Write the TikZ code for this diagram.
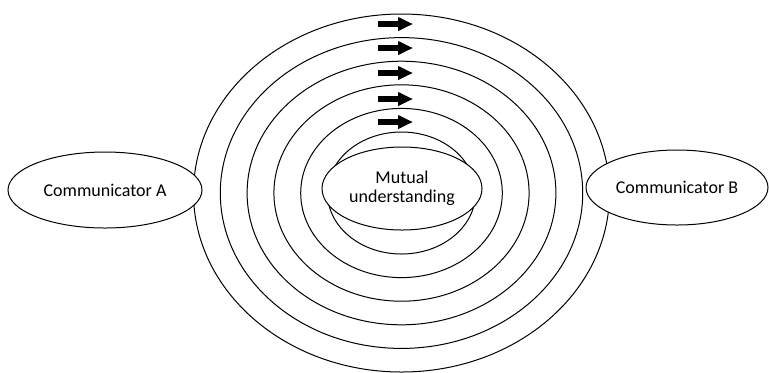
\documentclass[tikz,border=0pt]{standalone}
\usepackage{fontspec}
\setmainfont{Carlito}
\usepackage{tikz}
\usetikzlibrary{shapes.geometric,arrows.meta,positioning}
\tikzset{
  ringline/.style={draw=black,line width=0.5pt},
  partynode/.style={ellipse,draw=black,line width=0.5pt,fill=white,inner sep=0pt,
                    align=center,font=\fontsize{9}{9.6}\selectfont},
  flowarr/.style={-{Triangle[length=7.5pt,width=6.5pt]},line width=2.6pt,color=black}
}

\begin{document}
\begin{tikzpicture}[x=0.5pt,y=-0.5pt]
  \useasboundingbox (0,0) rectangle (769,372);

  % rings round the centre
  \foreach \i in {0,...,5}
    \draw[ringline] (401.5,193) ellipse ({37pt+13.4pt*\i} and {30.5pt+11.8pt*\i});

  \foreach \y [count=\k] in {24,48,73,99,122} {
    \coordinate (s\k) at (378,\y);
    \coordinate (t\k) at (413,\y);
    \draw[flowarr] (s\k) -- (t\k);
  }

  \node[partynode,minimum width=80pt,minimum height=41.5pt] (mutual) at (402,188.5)
      {Mutual\\understanding};
  \node[partynode,minimum width=97pt,minimum height=38pt] (commA) at (105,190)
      {Communicator A};
  \node[partynode,minimum width=91pt,minimum height=37.5pt] (commB) at (677,187.5)
      {Communicator B};
\end{tikzpicture}
\end{document}
